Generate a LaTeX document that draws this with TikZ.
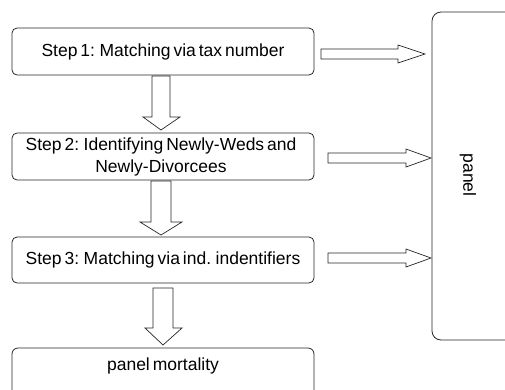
\documentclass[tikz,border=0pt]{standalone}
\usepackage{fontspec}
\setmainfont[WordSpace=0.6]{Liberation Sans}
\begin{document}
\begin{tikzpicture}[x=1pt,y=-1pt,
  stepbox/.style={draw=black!85,line width=0.8pt,rounded corners=5pt},
  blockarrow/.style={draw=black!85,line width=0.7pt,fill=white,line join=miter},
  lbl/.style={font=\fontsize{17.5}{22}\selectfont,inner sep=0pt,align=center}]
\useasboundingbox (0,0) rectangle (505,389);
\clip (0,0) rectangle (505,389);
% boxes
\draw[stepbox] (12,28) rectangle (314,75);
\node[lbl] (s1) at (163,52) {Step 1: Matching via tax number};
\draw[stepbox] (12,133) rectangle (314,180);
\node[lbl] (s2) at (161,157) {Step 2: Identifying Newly-Weds and\\Newly-Divorcees};
\draw[stepbox] (12,237) rectangle (314,283);
\node[lbl] (s3) at (163,260) {Step 3: Matching via ind. indentifiers};
\draw[stepbox,rounded corners=6pt] (12,348) rectangle (314,400);
\node[lbl] (pm) at (163,366) {panel mortality};
\draw[stepbox,rounded corners=9pt] (432,12) rectangle (520,340);
\node[lbl,rotate=-90] (pn) at (468,175) {panel};
% down arrows
\draw[blockarrow] (152,76) -- (170,76) -- (170,117) -- (180,117) -- (161,130) -- (143,117) -- (152,117) -- cycle;
\draw[blockarrow] (151,181) -- (171,181) -- (171,222) -- (182,222) -- (161,235) -- (140,222) -- (151,222) -- cycle;
\draw[blockarrow] (153,288) -- (173,288) -- (173,328) -- (182,328) -- (163,345) -- (145,328) -- (153,328) -- cycle;
% right arrows
\draw[blockarrow] (321,49) -- (398,49) -- (398,45) -- (425,54) -- (398,63) -- (398,59) -- (321,59) -- cycle;
\draw[blockarrow] (328,153) -- (406,153) -- (406,149) -- (431,158) -- (406,167) -- (406,163) -- (328,163) -- cycle;
\draw[blockarrow] (328,253) -- (406,253) -- (406,249) -- (431,258) -- (406,267) -- (406,263) -- (328,263) -- cycle;
\end{tikzpicture}
\end{document}
